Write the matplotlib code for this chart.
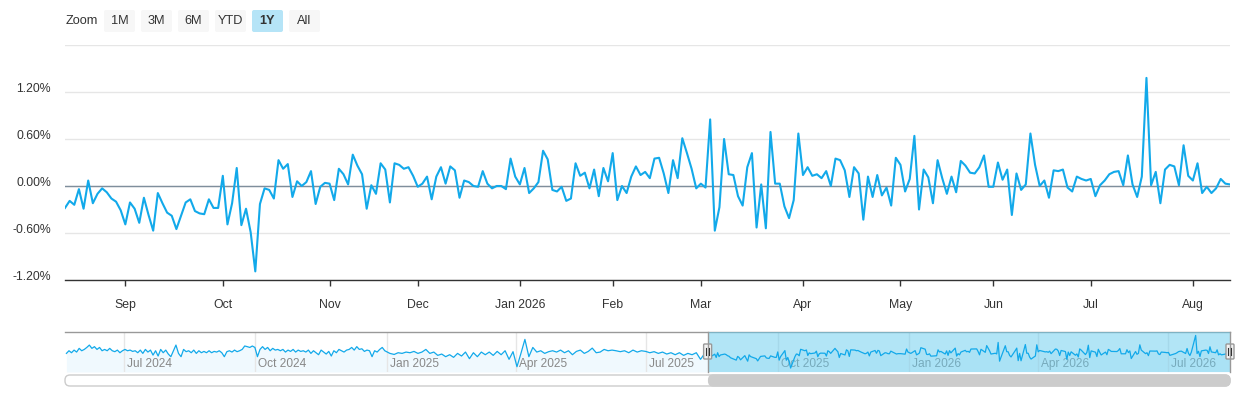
import numpy as np
import pandas as pd
import matplotlib
matplotlib.use('Agg')
import matplotlib.pyplot as plt
import matplotlib.dates as mdates
from matplotlib.patches import FancyBboxPatch
from matplotlib.transforms import IdentityTransform, blended_transform_factory, offset_copy
from matplotlib.lines import Line2D

# ---- data (daily % change, one value per trading day) ----
start_date = '2025-08-13'
market_holidays = ['2025-09-01', '2025-11-27', '2025-12-25', '2026-01-01',
                   '2026-01-19', '2026-02-16', '2026-04-03', '2026-05-25',
                   '2026-06-19', '2026-07-03']

daily_change = [
    -0.28, -0.19, -0.24, -0.04, -0.29, 0.07, -0.22, -0.10, -0.03, -0.08,
    -0.16, -0.20, -0.31, -0.49, -0.21, -0.29, -0.47, -0.15, -0.37, -0.57,
    -0.09, -0.22, -0.34, -0.38, -0.55, -0.38, -0.21, -0.17, -0.32, -0.35,
    -0.36, -0.17,
    -0.28, -0.28, 0.13, -0.49, -0.22, 0.23, -0.50, -0.29, -0.59, -1.09,
    -0.23, -0.03, -0.05, -0.16, 0.33, 0.22, 0.28, -0.14, 0.06, 0.00,
    0.05, 0.19, -0.23, -0.01, 0.04, 0.03, -0.18, 0.22, 0.15, 0.02, 0.40,
    0.26, 0.15, -0.29, 0.01, -0.10, 0.29, 0.21, -0.21, 0.29, 0.27,
    0.22, 0.24, 0.13, -0.01, 0.03, 0.12, -0.17, 0.12, 0.24, 0.03,
    0.25, 0.20, -0.15, 0.07, 0.05, 0.00, -0.01, 0.19, 0.03, -0.03, 0.00,
    0.00, -0.04, 0.35, 0.12, 0.02, 0.23, -0.09, -0.03, 0.05, 0.45,
    0.34, -0.05, -0.07, -0.01, -0.19, -0.16, 0.29, 0.13, 0.17, -0.03,
    0.21, -0.13, 0.23, 0.06, 0.42, -0.18, 0.00, -0.09, 0.12, 0.25, 0.14,
    0.18, 0.10, 0.35, 0.36, 0.16, -0.09, 0.33, 0.10, 0.61, 0.42,
    0.22, -0.03, 0.03, -0.02, 0.85, -0.57, -0.27, 0.60, 0.15, 0.14,
    -0.13, -0.25, 0.24, 0.42, -0.53, 0.02, -0.54, 0.69, 0.03, 0.03,
    -0.26, -0.41,
    -0.18, 0.67, 0.14, 0.24, 0.13, 0.15, 0.10, 0.19, 0.00, 0.35,
    0.33, 0.20, -0.14, 0.24, 0.16, -0.43, 0.12, -0.14, 0.14, -0.12,
    -0.02, -0.25, 0.36, 0.27, -0.07, 0.09, 0.64, -0.30, 0.21, 0.11,
    -0.22, 0.33,
    0.10, -0.10, 0.12, -0.08, 0.32, 0.26, 0.17, 0.16, 0.24, 0.39,
    -0.01, -0.01, 0.30, 0.08, 0.21, -0.37, 0.16, -0.05, 0.02, 0.67,
    0.27, 0.00, 0.07, -0.15, 0.20, 0.19, 0.21, -0.02, -0.07, 0.12,
    0.09, 0.07, 0.09,
    -0.13, 0.01, 0.07, 0.15, 0.18, 0.19, 0.01, 0.39, 0.02, -0.14,
    0.12, 1.38, 0.01, 0.18, -0.22, 0.21, 0.27, 0.25, 0.01, 0.52,
    0.13, 0.07, 0.29, -0.09, -0.01, -0.09, -0.03, 0.09, 0.03, 0.02,
]

# navigator history before the selected year
nav_early_a = [
    0.02, 0.22, 0.07, 0.27, 0.12, 0.40, 0.22, 0.32, 0.47, 0.65,
    0.40, 0.53, 0.32, 0.47, 0.22, 0.32, 0.22, 0.40, 0.22, 0.15,
    0.27, 0.07, 0.22, 0.32, 0.22, 0.27, 0.17, 0.22, 0.07, 0.27,
    0.02, 0.32, 0.12, 0.27, -0.11, 0.22, -0.18, 0.32, 0.07, 0.27,
    -0.03, -0.23, 0.22, 0.65, 0.02, -0.23, 0.32, 0.15, 0.22, 0.07,
    0.27, 0.02, 0.22, 0.07, 0.17, 0.07, 0.22, 0.07, 0.17, 0.12,
    0.22, 0.07, -0.23, 0.15, 0.22, 0.12, 0.27, 0.15, 0.22, 0.32,
    0.58, 0.53, 0.47, 0.58, 0.47, -0.23, 0.32, 0.53, 0.32, 0.47,
    0.22, 0.40, 0.27, 0.32, 0.22, 0.32, 0.12, 0.27, 0.17, 0.32,
    0.12, 0.27, 0.17, 0.22, 0.12, 0.27, 0.02, 0.22, 0.07, -0.08,
    0.27, 0.12, -0.03, 0.17, -0.18, 0.22, 0.07, 0.32, 0.22, 0.12,
    0.27, 0.32, 0.47, 0.27, 0.53, 0.32, 0.37, 0.17, 0.27, 0.22,
    -0.23, 0.22, 0.12, 0.32, 0.47, 0.22, 0.12, 0.02,
]
nav_early_b = [
    -0.06, 0.07, 0.02, 0.12, 0.07, 0.17, 0.02, 0.12, 0.32, 0.02,
    0.12, -0.13, -0.03, -0.23, -0.08, -0.28, 0.02, -0.18, 0.12, -0.38,
    0.07, -0.23, 0.12, -0.08, 0.12, -0.13, 0.17, -0.08, 0.22, -0.43,
    0.15, -0.99, 0.02, 1.08, -0.23, 0.47, 0.12, 0.22, 0.02, 0.15,
    0.22, 0.12, 0.27, 0.07, 0.22, -0.08, 0.17, 0.27, 0.02, 0.17,
    0.42, 0.07, 0.12, 0.32, 0.22, 0.27, 0.22,
]
nav_early_c = [
    0.15, 0.22, 0.07, 0.27, 0.12, 0.22, 0.17, 0.07, 0.15, 0.02,
    0.12, -0.03, 0.07, -0.08, 0.07, -0.13, 0.02, -0.08, 0.07, -0.43, 0.02,
]
nav_spans = [('2024-05-22', '2025-01-03'), ('2025-01-06', '2025-06-10'),
             ('2025-06-13', '2025-08-11')]
nav_start = '2024-05-21'

y_ticks = [-1.2, -0.6, 0.0, 0.6, 1.2, 1.8]
zoom_buttons = ['1M', '3M', '6M', 'YTD', '1Y', 'All']
selected_button = '1Y'

LINE = '#12a9ea'
W, H = 1240, 400

plt.rcParams['font.family'] = ['Liberation Sans', 'DejaVu Sans']


def fx(x):
    return x / W


def fy(y):
    return 1 - y / H


def px_box(x0, y0, x1, y1, r=2, **kw):
    """rounded box given in pixel coords measured from top-left"""
    p = FancyBboxPatch((x0, H - y1), x1 - x0, y1 - y0,
                       boxstyle='round,pad=0,rounding_size=%g' % r,
                       transform=IdentityTransform(), **kw)
    fig.add_artist(p)
    return p


fig = plt.figure(figsize=(W / 100, H / 100), dpi=100)

# ---- main chart ----
ax = fig.add_axes([fx(65), fy(280), fx(1230) - fx(65), fy(45) - fy(280)])
dates = pd.bdate_range(start_date, periods=len(daily_change), freq='C',
                       holidays=market_holidays)
x = np.arange(len(daily_change))
ax.plot(x, daily_change, color=LINE, lw=1.5, solid_joinstyle='round', zorder=3)
ax.axhline(0, color='#7f8e9c', lw=1, zorder=2)
ax.set_xlim(0, len(x) - 1)
ax.set_ylim(y_ticks[0], y_ticks[-1])
ax.set_yticks(y_ticks)
ax.set_yticklabels(['%.2f%%' % v for v in y_ticks[:-1]] + [''])
ax.yaxis.grid(True, color='#e6e6e6', lw=1, zorder=0)
for s in ['top', 'right', 'left']:
    ax.spines[s].set_visible(False)
ax.spines['bottom'].set_color('#333333')
ax.spines['bottom'].set_linewidth(1)

month_idx = [i for i in range(1, len(dates)) if dates[i].month != dates[i - 1].month]
month_lab = [dates[i].strftime('%b %Y') if dates[i].month == 1 else dates[i].strftime('%b')
             for i in month_idx]
ax.set_xticks(month_idx)
ax.set_xticklabels(month_lab)
ax.tick_params(axis='x', length=4.5, width=1, color='#333333', pad=9,
               labelsize=8.8, labelcolor='#333333')
ax.tick_params(axis='y', length=0, pad=10, labelsize=8.8, labelcolor='#333333')
for lab in ax.get_yticklabels():
    lab.set_verticalalignment('baseline')

# ---- navigator ----
nav = fig.add_axes([fx(65), fy(372), fx(1230) - fx(65), fy(332) - fy(372)])
nav_vals = []
nav_dates = []
for vals, (d0, d1) in zip([nav_early_a, nav_early_b, nav_early_c], nav_spans):
    nav_dates.extend(pd.date_range(d0, d1, periods=len(vals)))
    nav_vals.extend(vals)
nav_dates.extend(dates)
nav_vals.extend(daily_change)
nav_dates = pd.DatetimeIndex(nav_dates)
nav_lo, nav_hi = -1.39, 1.64
nav.set_xlim(pd.Timestamp(nav_start), dates[-1])
nav.set_ylim(nav_lo, nav_hi)
nav.fill_between(nav_dates, nav_vals, nav_lo, color='#f0f9fe', lw=0, zorder=1)
nav.plot(nav_dates, nav_vals, color=LINE, lw=0.9, zorder=5)
nav.axvspan(dates[0], dates[-1], color='#66ccee', alpha=0.5, lw=0, zorder=4)

quarters = pd.date_range('2024-07-01', dates[-1], freq='QS-JAN')
trans = blended_transform_factory(nav.transData, nav.transAxes)
lab_trans = offset_copy(trans, fig=fig, x=3, y=0, units='dots')
for q in quarters:
    nav.axvline(q, color='#e6e6e6', lw=1, zorder=2)
    nav.text(q, 0.2, q.strftime('%b %Y'), transform=lab_trans, fontsize=8.6,
             color='#888888', va='center', ha='left', zorder=3)
nav.set_xticks([])
nav.set_yticks([])
for s in ['right', 'left', 'bottom']:
    nav.spines[s].set_visible(False)
nav.spines['top'].set_color('#999999')
nav.spines['top'].set_linewidth(1)

sel_l = nav.transData.transform((mdates.date2num(dates[0]), 0))[0]
sel_r = nav.transData.transform((mdates.date2num(dates[-1]), 0))[0]
for xe in [sel_l, sel_r]:
    fig.add_artist(Line2D([xe, xe], [H - 332, H - 372], color='#999999', lw=1,
                          transform=IdentityTransform()))
    px_box(xe - 4, 344, xe + 4, 359, r=1, facecolor='#f2f2f2',
           edgecolor='#999999', lw=1)
    for dx in [-1.5, 1.5]:
        fig.add_artist(Line2D([xe + dx, xe + dx], [H - 348, H - 355], color='#333333',
                              lw=0.8, transform=IdentityTransform()))

# ---- scrollbar ----
px_box(65, 375, 1230, 386, r=5, facecolor='white', edgecolor='#cccccc', lw=1)
px_box(sel_l + 1, 375, sel_r, 386, r=5, facecolor='#cccccc', edgecolor='#cccccc', lw=1)

# ---- range selector ----
fig.text(fx(66), fy(21), 'Zoom', fontsize=9.2, color='#333333', va='center', ha='left')
bx = 104
for b in zoom_buttons:
    sel = b == selected_button
    px_box(bx, 10, bx + 31, 32, r=2, facecolor='#b5e4f7' if sel else '#f7f7f7',
           edgecolor='none')
    fig.text(fx(bx + 15.5), fy(21), b, fontsize=9.2, color='#333333', ha='center',
             va='center', fontweight='bold' if sel else 'normal')
    bx += 37

fig.savefig('out.png', dpi=100)
